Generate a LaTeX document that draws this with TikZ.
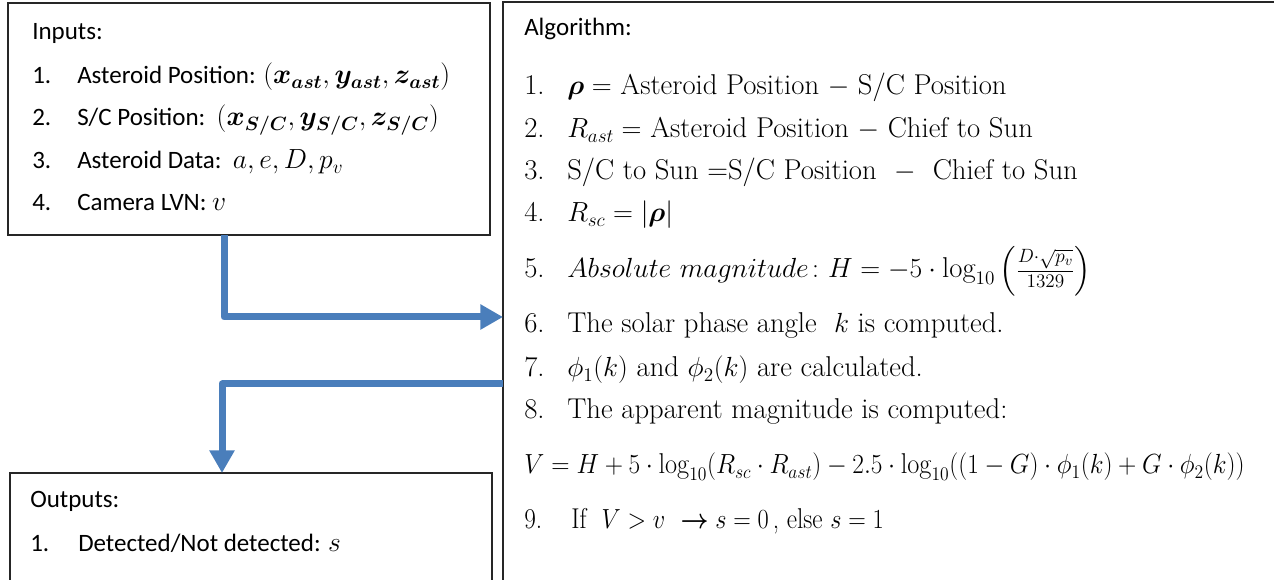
\documentclass[tikz,border=0pt]{standalone}
\usepackage{fontspec}
\usepackage{amsmath,bm,graphicx}
\usetikzlibrary{calc,arrows.meta}
\newfontfamily\calfont{Carlito}
\definecolor{flowblue}{HTML}{4A7EBB}
\newcommand{\inmath}[1]{{\fontsize{20.6}{22}\selectfont$#1$}}
\begin{document}
\begin{tikzpicture}[x=0.75pt,y=-0.75pt,
  box/.style={draw=black!85, line width=1pt, anchor=north west, inner sep=0pt, outer sep=0pt},
  ctext/.style={anchor=base west, inner sep=0pt, font=\calfont\fontsize{18.75}{22}\selectfont},
  atext/.style={anchor=base west, inner sep=0pt, font=\fontsize{21.5}{24}\selectfont},
  flow/.style={draw=flowblue, line width=5.25pt, line join=round, -{Triangle[length=17pt,width=18pt]}}
]
\useasboundingbox (0,0) rectangle (1274,580);
\clip (0,0) rectangle (1274,580);
% boxes
\node[box, minimum width=361.5pt, minimum height=174pt] (inp) at (8,3) {};
\node[box, minimum width=590.25pt, minimum height=448.5pt] (alg) at (503,2) {};
\node[box, minimum width=361.5pt, minimum height=95.25pt] (out) at (10,473) {};
% inputs
\node[ctext] (inh) at (32,40) {Inputs:};
\node[ctext] (in1n) at (32,84) {1.};
\node[ctext] (in1) at (77,84) {Asteroid Position: \inmath{(\bm{x_{ast}},\bm{y_{ast}},\bm{z_{ast}})}};
\node[ctext] (in2n) at (32,126) {2.};
\node[ctext] (in2) at (77,126) {S/C Position:\ \ \inmath{(\bm{x_{S/C}},\bm{y_{S/C}},\bm{z_{S/C}})}};
\node[ctext] (in3n) at (32,169) {3.};
\node[ctext] (in3) at (77,169) {Asteroid Data:\ \ \inmath{a,e,D,p_v}};
\node[ctext] (in4n) at (32,211) {4.};
\node[ctext] (in4) at (77,211) {Camera LVN: \inmath{v}};
% algorithm
\node[ctext] (alh) at (524,36) {Algorithm:};
\node[atext] (a1n) at (524,95) {1.};
\node[atext] (a1) at (567,95) {$\bm{\rho} =$\ Asteroid Position $-$\ S/C Position};
\node[atext] (a2n) at (524,138) {2.};
\node[atext] (a2) at (567,138) {$R_{ast} =$ Asteroid Position $-$ Chief to Sun};
\node[atext] (a3n) at (524,180) {3.};
\node[atext] (a3) at (567,180) {S/C to Sun =S/C Position\ \ $-$\ \ Chief to Sun};
\node[atext] (a4n) at (524,222) {4.};
\node[atext] (a4) at (567,222) {$R_{sc} = |\bm{\rho}|$};
\node[atext] (a5n) at (524,278) {5.};
\node[atext] (a5) at (567,278) {$Absolute\ magnitude\colon H = -5\cdot\log_{10}\left(\frac{D\cdot\sqrt{p_v}}{1329}\right)$};
\node[atext] (a6n) at (524,333) {6.};
\node[atext] (a6) at (567,333) {The solar phase angle\ \ $k$ is computed.};
\node[atext] (a7n) at (524,377) {7.};
\node[atext] (a7) at (567,377) {$\phi_1(k)$ and $\phi_2(k)$ are calculated.};
\node[atext] (a8n) at (524,419) {8.};
\node[atext] (a8) at (567,419) {The apparent magnitude is computed:};
\node[atext] (av) at (524,474) {\scalebox{0.917}[1]{$V = H + 5\cdot\log_{10}(R_{sc}\cdot R_{ast}) - 2.5\cdot\log_{10}((1-G)\cdot\phi_1(k) + G\cdot\phi_2(k))$}};
\node[atext] (a9n) at (524,528) {\scalebox{0.88}[1]{9.}};
\node[atext] (a9) at (571,528) {\scalebox{0.88}[1]{If\ \ $V > v$\ \ $\bm{\rightarrow} s = 0$\,, else $s = 1$}};
% outputs
\node[ctext] (ouh) at (30,508) {Outputs:};
\node[ctext] (ou1n) at (30,551) {1.};
\node[ctext] (ou1) at (78,551) {Detected/Not detected: \inmath{s}};
% connectors
\draw[flow] ($(inp.south west)+(216,0)$) |- (alg.west |- 0,317);
\draw[flow] (alg.west |- 0,384) -| ($(out.north west)+(212,0)$);
\end{tikzpicture}
\end{document}
